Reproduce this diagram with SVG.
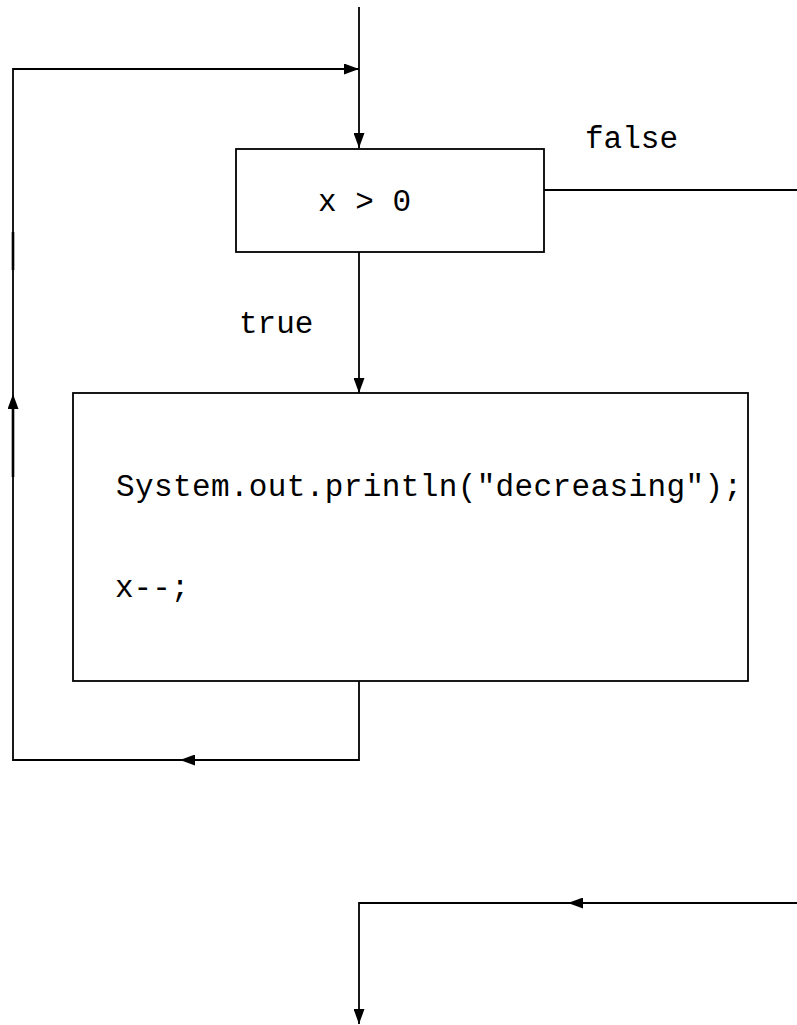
<svg xmlns="http://www.w3.org/2000/svg" width="797" height="1025" viewBox="0 0 797 1025">
<style>
.box{fill:#fff;stroke:#000;stroke-width:1.8}
.ln{fill:none;stroke:#000;stroke-width:1.8}
.arr{marker-end:url(#ah)}
.t{font-family:"Liberation Mono","Courier New",monospace;font-size:31px;fill:#000}
</style>
<defs>
<marker id="ah" markerWidth="15" markerHeight="11" refX="15" refY="5.5" orient="auto" markerUnits="userSpaceOnUse">
<path d="M0,0 L15,5.5 L0,11 z" fill="#000"/>
</marker>
</defs>
<g id="connectors">
<path class="ln arr" d="M359,7 V148"/>
<path class="ln arr" d="M359,681 V760 H180"/>
<path class="ln arr" d="M180,760 H13 V394"/>
<path class="ln arr" d="M13,394 V69 H359"/>
<path class="ln" d="M13,232 V270 M13,407 V477" style="stroke-width:2.6"/>
<path class="ln arr" d="M359,252 V393"/>
<path class="ln" d="M544,190 H797"/>
<path class="ln arr" d="M797,903 H568"/>
<path class="ln arr" d="M568,903 H359 V1024"/>
<text class="t" x="239" y="333">true</text>
<text class="t" x="585" y="148">false</text>
</g>
<g id="cond">
<rect class="box" x="236" y="149" width="308" height="103"/>
<text class="t" x="318" y="211">x &gt; 0</text>
</g>
<g id="body">
<rect class="box" x="73" y="393" width="675" height="288"/>
<text class="t" x="116" y="496" textLength="626" lengthAdjust="spacing">System.out.println("decreasing");</text>
<text class="t" x="115" y="597">x--;</text>
</g>
</svg>
